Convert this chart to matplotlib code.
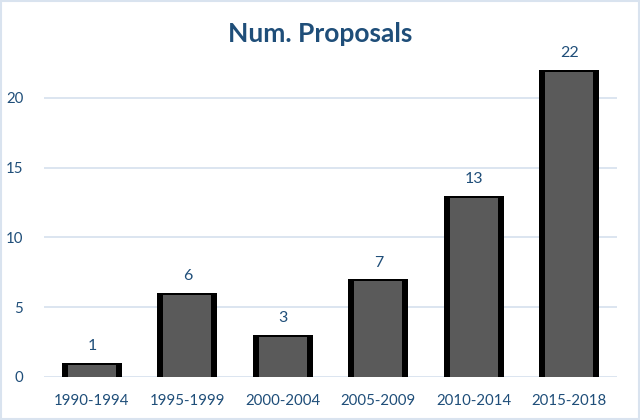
import numpy as np
import matplotlib.pyplot as plt
from matplotlib.patches import Rectangle

categories = ["1990-1994", "1995-1999", "2000-2004", "2005-2009", "2010-2014", "2015-2018"]
values = [1, 6, 3, 7, 13, 22]

blue = "#1f4e79"
plt.rcParams['font.family'] = ['Lato', 'DejaVu Sans']

fig = plt.figure(figsize=(6.4, 4.2), dpi=100)
ax = fig.add_axes([0.069, 0.1024, 0.895, 0.7976])

x = np.arange(len(categories))
w = 0.63
# black outer bar with a grey inner face
ax.bar(x, values, width=w, color="black", zorder=2)
ax.bar(x, np.array(values) - 0.15, width=w * 0.8, color="#5a5a5a", zorder=3)

for xi, v in zip(x, values):
    ax.text(xi, v + 0.7, str(v), ha="center", va="bottom", color=blue, fontsize=11.5)

ax.set_xlim(-0.5, len(categories) - 0.5)
ax.set_ylim(0, 24)
ax.set_yticks([0, 5, 10, 15, 20])
ax.set_xticks(x)
ax.set_xticklabels(categories)
ax.tick_params(length=0, colors=blue, labelsize=10.8)
ax.tick_params(axis="y", pad=15)
ax.tick_params(axis="x", pad=12)
ax.grid(axis="y", color="#d6e0ee", linewidth=1.2, zorder=0)
for s in ax.spines.values():
    s.set_visible(False)

fig.text(0.5, 0.92, "Num. Proposals", ha="center", va="center",
         color=blue, fontsize=19, fontweight="bold")

fig.patches.append(Rectangle((0.002, 0.003), 0.996, 0.994, transform=fig.transFigure,
                             fill=False, edgecolor="#d9e3ef", linewidth=1.5))

fig.savefig("out.png", dpi=100)
